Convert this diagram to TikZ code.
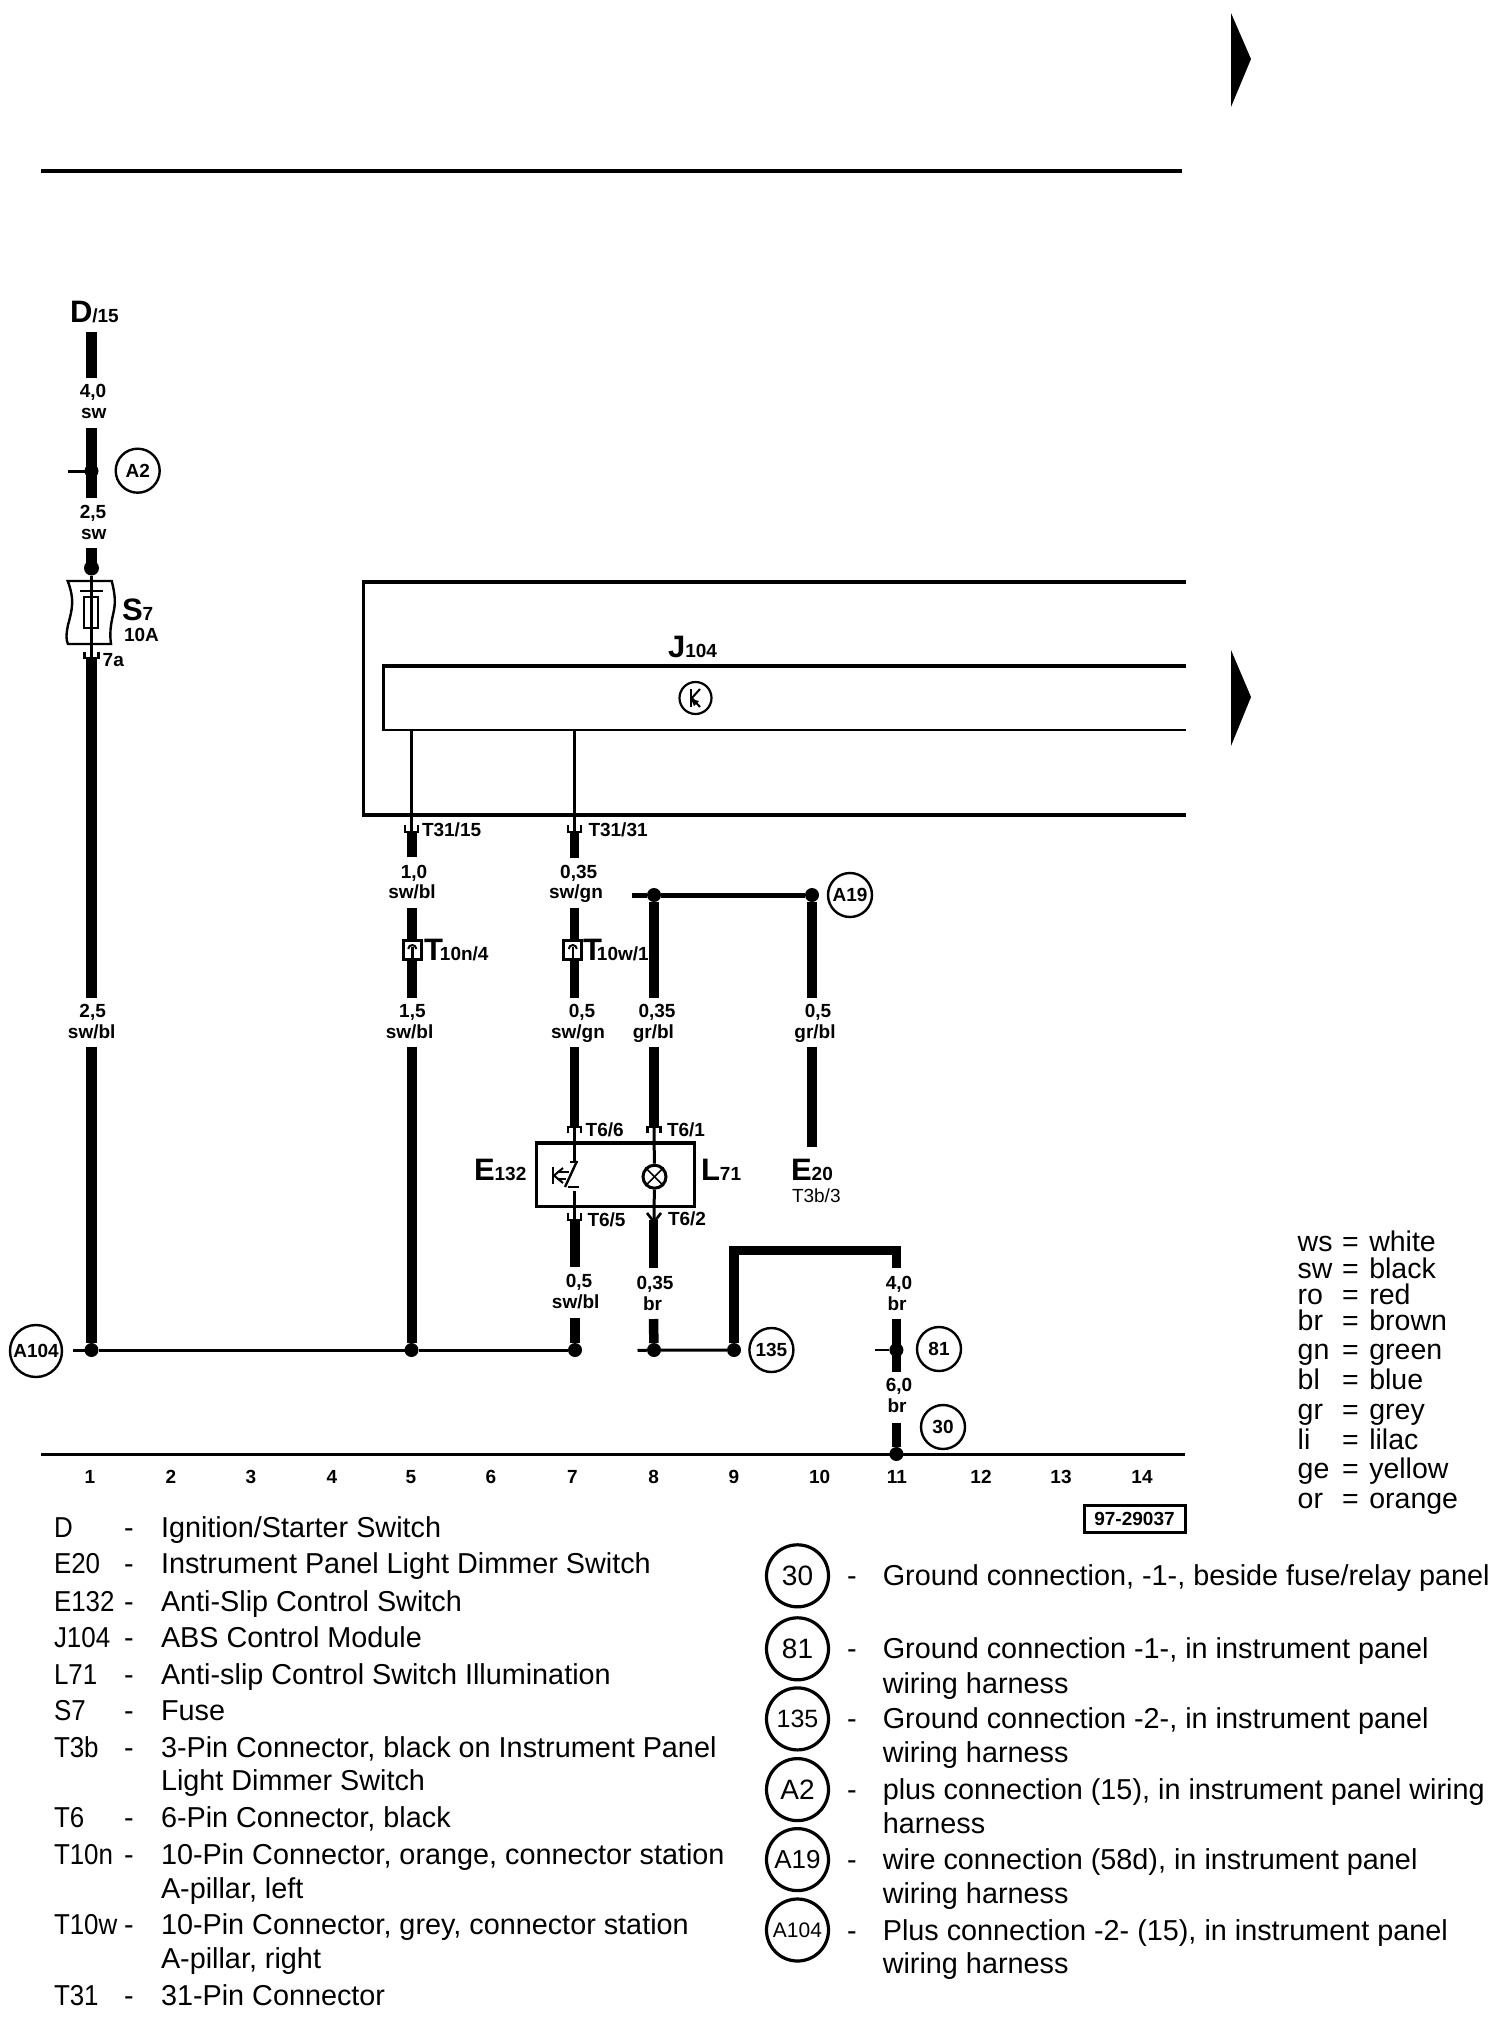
\documentclass[tikz,border=0pt]{standalone}
\usepackage{fontspec}
\setmainfont{Liberation Sans}
\newcounter{lblc}
\newcommand\sm{\fontsize{19}{21}\selectfont\bfseries}
\newcommand\bg{\fontsize{31}{33}\selectfont\bfseries}
\newcommand\Lc[3]{\stepcounter{lblc}\node[gauge,anchor=base] (lab\arabic{lblc}) at (#1,#2) {#3};}
\newcommand\Lw[3]{\stepcounter{lblc}\node[gauge,anchor=base west] (lab\arabic{lblc}) at (#1,#2) {#3};}
\newcommand\Lr[3]{\stepcounter{lblc}\node[legend,anchor=base west] (lab\arabic{lblc}) at (#1,#2) {#3};}
\newcommand\Lk[3]{\stepcounter{lblc}\node[colorkey,anchor=base west] (lab\arabic{lblc}) at (#1,#2) {#3};}
% thick wire segment between two named end coordinates
\newcommand\Vw[4]{\coordinate (#1a) at (#2,#3); \coordinate (#1b) at (#2,#4); \draw[wire] (#1a) -- (#1b);}
\newcommand\Row[4]{\Lr{54}{#1}{\scalebox{.9}[1]{#2}}\Lr{124}{#1}{#3}\Lr{161}{#1}{#4}}
\newcommand\Grd[4]{\node[bigref,font=\fontsize{#3}{#3}\selectfont] (leg#2) at (797.5,#1) {#2}; \Lr{847}{#1+10}{-}\Lr{882.8}{#1+10}{#4}}
\newcommand\Key[3]{\Lk{1297.7}{#1}{#2}\Lk{1342}{#1}{=}\Lk{1369.3}{#1}{#3}}
\tikzset{
 gauge/.style={inner sep=0,outer sep=0,font=\sm},
 legend/.style={inner sep=0,outer sep=0,font=\fontsize{28.8}{31}\selectfont},
 colorkey/.style={inner sep=0,outer sep=0,font=\fontsize{28.5}{30}\selectfont},
 wire/.style={line width=10,line cap=butt},
 midwire/.style={line width=5},
 thin wire/.style={line width=3},
 outline/.style={line width=3.2},
 fork/.style={line width=2.6},
 jdot/.style={circle,fill=black,inner sep=0,minimum size=14,outer sep=0},
 ref/.style={circle,draw,line width=2.4,inner sep=0,minimum size=44,font=\sm},
 bigref/.style={circle,draw,line width=3.2,inner sep=0,minimum size=62}
}
\begin{document}
\begin{tikzpicture}[x=1pt,y=-1pt]
\useasboundingbox (0,0) rectangle (1504,2028);
\fill[white] (0,0) rectangle (1504,2028);
% page furniture
\coordinate (topL) at (41,171); \coordinate (topR) at (1182,171);
\draw[line width=4] (topL) -- (topR);
\fill (1231,13) -- (1251,59) -- (1231,107) -- cycle;
\fill (1231,650) -- (1251,697) -- (1231,746) -- cycle;
% control module
\draw[outline] (1186,582) -- (363.3,582) -- (363.3,815) -- (1186,815);
\draw[outline] (1186,666) -- (383.3,666) -- (383.3,730);
\draw[line width=2.4] (381.7,730) -- (1186,730);
\node[gauge,anchor=base west] (J104) at (668,657) {\bg J\sm 104};
\node[circle,draw,line width=2.2,inner sep=0,minimum size=32] (kc) at (695.5,698) {};
\draw[line width=2.4] (691,689) -- (691,707);
\draw[line width=2] (691,699) -- (700,689);
\draw[line width=2] (691,697) -- (700,707);
\fill (691,699) -- (699,701) -- (694,706) -- cycle;
% ground and junctions
\node[jdot] (j1) at (91.5,1350) {};
\node[jdot] (j5) at (411.5,1350) {};
\node[jdot] (j7) at (575,1350) {};
\node[jdot] (j8) at (654,1350) {};
\node[jdot] (j9) at (734,1350) {};
\node[jdot] (j81) at (896.4,1350) {};
\node[jdot] (j30) at (896.4,1454) {};
\node[jdot] (jA2) at (91.5,471) {};
\node[jdot,minimum size=15] (jF) at (91.5,568) {};
\node[jdot] (jA19a) at (654,895) {};
\node[jdot] (jA19b) at (812,895) {};
\coordinate (gL) at (41,1454); \coordinate (gR) at (1185,1454);
\draw[line width=3] (gL) -- (gR);
% reference circles
\node[ref] (A2) at (137.7,470.7) {A2};
\node[ref] (A19) at (850,895) {A19};
\node[ref,minimum size=52] (A104) at (36,1351) {A104};
\node[ref] (n135) at (771.4,1350) {135};
\node[ref] (n81) at (939,1349) {81};
\node[ref] (n30) at (943,1427) {30};
% column 1
\begin{scope}[wire/.append style={line width=11}]
\Vw{ca}{91.5}{332}{378}
\Vw{cb}{91.5}{428}{498}
\Vw{cc}{91.5}{548}{568}
\coordinate (a2s) at (68,471); \draw[thin wire] (a2s) -- (jA2);
\coordinate (f7) at (91.5,657);
\draw[thin wire] (jF) -- (f7);
\Vw{cd}{91.5}{657}{998}
\coordinate (ce) at (91.5,1047);
\draw[wire] (ce) -- (j1);
\end{scope}
\draw[fork] (f7) ++(-7,-5) -- ++(0,6) -- ++(14,0) -- ++(0,-6);
% fuse
\draw[line width=2.4] (67.7,581) .. controls (75,600) and (72,610) .. (68,625) .. controls (66,635) and (66,640) .. (68,644) -- (111,644) .. controls (109,630) and (112,620) .. (114,610) .. controls (116,600) and (114,590) .. (111.7,581) -- cycle;
\draw[line width=2.6] (80,591) -- (102.7,591);
\draw[line width=2.4] (84,597) rectangle (98,627.7);
% column 5
\coordinate (t15) at (411.5,832);
\draw[line width=2.2] (411.5,730) -- (t15);
\draw[fork] (t15) ++(-6.5,-7) -- ++(0,7) -- ++(13,0) -- ++(0,-7);
\Vw{ea}{411.5}{832}{857}
\Vw{eb}{411.5}{908}{998}
\coordinate (ec) at (411.5,1047); \draw[wire] (ec) -- (j5);
% column 7
\coordinate (t31) at (574.5,832);
\draw[thin wire] (574.5,730) -- (t31);
\draw[fork] (t31) ++(-6.5,-7) -- ++(0,7) -- ++(13,0) -- ++(0,-7);
\begin{scope}[wire/.append style={line width=9.5}]
\Vw{ga}{574.5}{832}{858}
\Vw{gb}{574.5}{908}{998}
\Vw{gc}{574.5}{1047}{1126}
% column 8 and A19
\coordinate (a19s) at (632,895);
\draw[midwire] (a19s) -- (jA19a) -- (jA19b);
\coordinate (ha) at (654,998); \draw[wire] (jA19a) -- (ha);
\Vw{hb}{654}{1047}{1126}
\coordinate (ia) at (812,998); \draw[wire] (jA19b) -- (ia);
\Vw{ib}{812}{1047}{1147}
\end{scope}
% T10 connectors
\node[draw,fill=white,line width=3.2,minimum width=18,minimum height=19,inner sep=0] (T10n) at (412.3,950) {};
\node[draw,fill=white,line width=3.2,minimum width=18,minimum height=19,inner sep=0] (T10w) at (572.8,950) {};
\foreach \n/\x in {n/412.3,w/572.8}{
 \draw[line width=2.4] (\x,958) -- (\x,947);
 \draw[line width=2] (\x-4,949) arc (180:360:4);
}
% E132 / L71 housing
\draw[outline] (536.4,1143) rectangle (694.6,1206.5);
\coordinate (sw1) at (574.5,1126); \coordinate (sw2) at (574.5,1161);
\draw[thin wire] (sw1) -- (sw2);
\draw[fork] (568,1133) -- (568,1127) -- (581,1127) -- (581,1133);
\draw[fork] (647.5,1133) -- (647.5,1127) -- (660.5,1127) -- (660.5,1133);
\draw[line width=2.4] (577,1161) -- (565,1187);
\draw[line width=2] (570,1161.5) -- (578,1161.5);
\draw[line width=2] (568,1187) -- (578.5,1187);
\draw[line width=2.6] (553,1167) -- (553,1184);
\draw[line width=2] (563,1168) -- (554,1175.5) -- (563,1183);
\draw[line width=2] (557,1172) -- (569,1172);
\draw[line width=2] (557,1179) -- (566,1179);
\node[circle,draw,line width=3,inner sep=0,minimum size=23] (lamp) at (654.5,1176.7) {};
\draw[line width=1.6] (lamp.north west) -- (lamp.south east);
\draw[line width=1.6] (lamp.north east) -- (lamp.south west);
\coordinate (l1) at (654,1126); \draw[thin wire] (l1) -- (lamp);
\coordinate (l2) at (654,1220); \draw[thin wire] (lamp) -- (l2);
\coordinate (sw3) at (574.5,1191); \coordinate (sw4) at (574.5,1221);
\draw[thin wire] (sw3) -- (sw4);
\draw[fork] (568,1213) -- (568,1220) -- (581,1220) -- (581,1213);
\draw[fork] (647,1213) -- (654,1222) -- (661,1213);
% lower wires
\begin{scope}[wire/.append style={line width=9.5}]
\Vw{gd}{575}{1221}{1267}
\coordinate (ge) at (575,1318); \draw[wire] (ge) -- (j7);
\Vw{hd}{653.5}{1220}{1268}
\coordinate (he) at (653.5,1319); \draw[wire] (he) -- (j8);
\end{scope}
\draw[line width=3] (j1) -- (j5) -- (j7);
\coordinate (a104s) at (73,1350); \draw[line width=3] (a104s) -- (j1);
\coordinate (s135) at (637.5,1350.5);
\draw[line width=3] (s135) -- (j8) -- (j9);
\coordinate (topa) at (734,1250.5); \coordinate (topb) at (896.4,1250.5); \coordinate (topc) at (896.4,1268);
\draw[line width=9.5,line join=miter] (j9) -- (topa) -- (topb) -- (topc);
\coordinate (w11a) at (896.4,1319); \coordinate (w11b) at (896.4,1372); \coordinate (w11c) at (896.4,1423);
\draw[line width=9] (w11a) -- (w11b);
\draw[line width=9] (w11c) -- (j30);
\coordinate (s81) at (875,1350); \draw[line width=2.4] (s81) -- (j81);
% wire labels
\node[gauge,anchor=base west] (D15) at (70,322.7) {\bg D\sm /15};
\Lc{93}{397.7}{4,0}\Lc{93.7}{418}{sw}
\Lc{93}{518}{2,5}\Lc{93.7}{539}{sw}
\node[gauge,anchor=base west] (S7) at (122,620) {\bg S\sm 7};
\Lw{124}{641}{10A}
\Lw{102.7}{666.7}{7a}
\Lc{92.7}{1017.3}{2,5}\Lc{91.7}{1038}{sw/bl}
\Lw{422}{836}{T31/15}\Lw{588.5}{836}{T31/31}
\Lc{414}{878}{1,0}\Lc{412}{898}{sw/bl}
\Lc{578.7}{878}{0,35}\Lc{576}{898}{sw/gn}
\node[gauge,anchor=base west] (T10nl) at (424,960.7) {\bg T\kern-3pt\sm 10n/4};
\node[gauge,anchor=base west] (T10wl) at (583,960.7) {\bg T\kern-5pt\sm 10w/1};
\Lc{412.4}{1017.7}{1,5}\Lc{409.6}{1038}{sw/bl}
\Lc{582}{1017.7}{0,5}\Lc{578}{1038}{sw/gn}
\Lc{657}{1017.7}{0,35}\Lc{653.4}{1038}{gr/bl}
\Lc{818}{1017.7}{0,5}\Lc{815}{1038}{gr/bl}
\Lw{585.7}{1136.7}{T6/6}\Lw{667}{1136.7}{T6/1}
\Lw{587.5}{1226.7}{T6/5}\Lw{668}{1225}{T6/2}
\node[gauge,anchor=base west] (E132) at (474,1180) {\bg E\sm 132};
\node[gauge,anchor=base west] (L71) at (701,1180) {\bg L\sm 71};
\node[gauge,anchor=base west] (E20) at (791,1180) {\bg E\sm 20};
\node[gauge,anchor=base west,font=\fontsize{19}{21}\selectfont] (T3b) at (792,1202.7) {T3b/3};
\Lc{579}{1287}{0,5}\Lc{575.7}{1308}{sw/bl}
\Lc{655}{1289}{0,35}\Lc{652.5}{1310.7}{br}
\Lc{899}{1289}{4,0}\Lc{897}{1310.7}{br}
\Lc{899}{1391.7}{6,0}\Lc{897}{1412.7}{br}
% column numbers
\foreach \x/\t in {90/1,171/2,251/3,332/4,411/5,491/6,572.5/7,653.6/8,734/9,819.6/10,897/11,981/12,1061/13,1142/14}{
 \node[gauge,anchor=base] (col\t) at (\x,1483.3) {\t};
}
% drawing number
\node[draw,line width=3,inner sep=0,minimum width=101,minimum height=27,font=\sm] (dwg) at (1134.5,1519) {97-29037};
% colour key
\Key{1251.7}{ws}{white}
\Key{1278.3}{sw}{black}
\Key{1304}{ro}{red}
\Key{1330.7}{br}{brown}
\Key{1359}{gn}{green}
\Key{1389.3}{bl}{blue}
\Key{1419.3}{gr}{grey}
\Key{1449.3}{li}{lilac}
\Key{1478.3}{ge}{yellow}
\Key{1508.3}{or}{orange}
% component list
\Row{1537}{D}{-}{Ignition/Starter Switch}
\Row{1573.4}{E20}{-}{Instrument Panel Light Dimmer Switch}
\Row{1611}{E132}{-}{Anti-Slip Control Switch}
\Row{1647}{J104}{-}{ABS Control Module}
\Row{1684}{L71}{-}{Anti-slip Control Switch Illumination}
\Row{1720}{S7}{-}{Fuse}
\Row{1757}{T3b}{-}{3-Pin Connector, black on Instrument Panel}
\Lr{161}{1790}{Light Dimmer Switch}
\Row{1827.6}{T6}{-}{6-Pin Connector, black}
\Row{1864}{T10n}{-}{10-Pin Connector, orange, connector station}
\Lr{161}{1898}{A-pillar, left}
\Row{1934}{T10w}{-}{10-Pin Connector, grey, connector station}
\Lr{161}{1968.7}{A-pillar, right}
\Row{2005}{T31}{-}{31-Pin Connector}
% ground point list
\Grd{1575.8}{30}{28}{Ground connection, -1-, beside fuse/relay panel}
\Grd{1648.8}{81}{28}{Ground connection -1-, in instrument panel}
\Lr{882.8}{1693}{wiring harness}
\Grd{1718.9}{135}{25}{Ground connection -2-, in instrument panel}
\Lr{882.8}{1762.6}{wiring harness}
\Grd{1789.6}{A2}{28}{plus connection (15), in instrument panel wiring}
\Lr{882.8}{1833}{harness}
\Grd{1859.6}{A19}{26}{wire connection (58d), in instrument panel}
\Lr{882.8}{1903}{wiring harness}
\Grd{1930}{A104}{21}{Plus connection -2- (15), in instrument panel}
\Lr{882.8}{1973}{wiring harness}
\end{tikzpicture}
\end{document}
